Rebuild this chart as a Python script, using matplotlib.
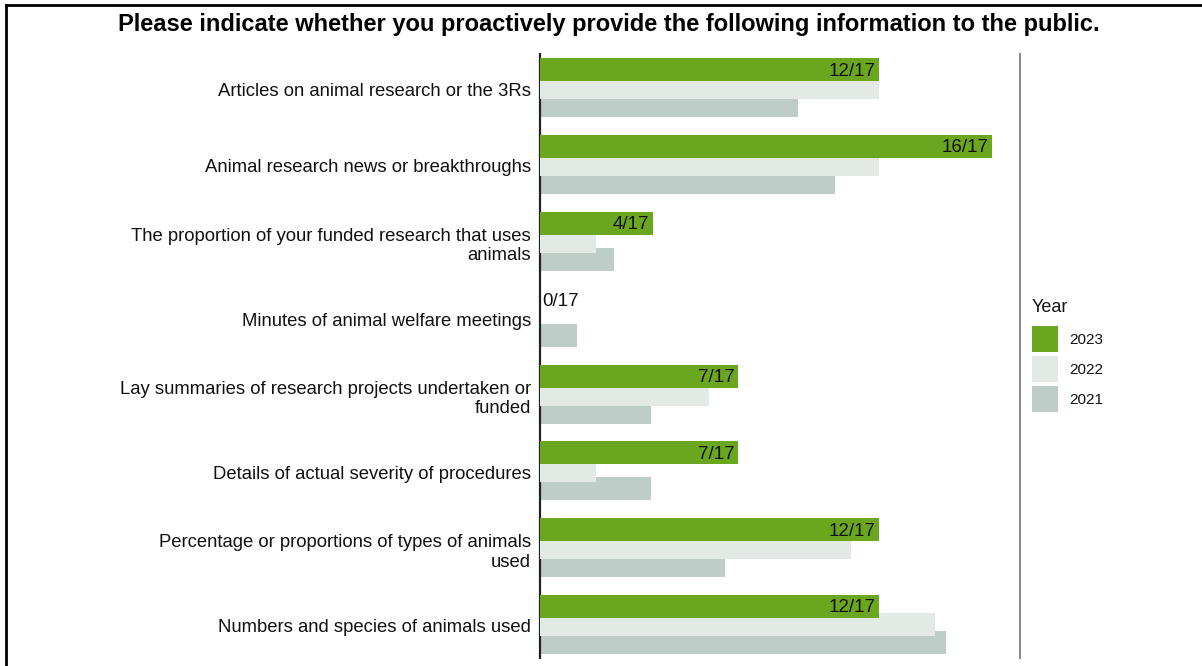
import matplotlib.pyplot as plt
from matplotlib.patches import Rectangle
import numpy as np

plt.rcParams['font.family'] = ['Liberation Sans', 'DejaVu Sans']

# Survey answers: number of organisations answering "yes" per year
categories = [
    "Articles on animal research or the 3Rs",
    "Animal research news or breakthroughs",
    "The proportion of your funded research that uses\nanimals",
    "Minutes of animal welfare meetings",
    "Lay summaries of research projects undertaken or\nfunded",
    "Details of actual severity of procedures",
    "Percentage or proportions of types of animals\nused",
    "Numbers and species of animals used",
]
years = ["2023", "2022", "2021"]
yes_2023 = [12, 16, 4, 0, 7, 7, 12, 12]
yes_2022 = [12, 12, 2, 0, 6, 2, 11, 14]
yes_2021 = [7, 8, 2, 1, 3, 3, 5, 11]
respondents = {"2023": 17, "2022": 17, "2021": 13}

colors = {"2023": "#6aa71e", "2022": "#e3e9e5", "2021": "#bfcdc8"}
counts = {"2023": yes_2023, "2022": yes_2022, "2021": yes_2021}

W, H = 1202, 666
fig = plt.figure(figsize=(W / 100, H / 100), dpi=100)
ax = fig.add_axes([540 / W, 1 - 658 / H, 480 / W, (658 - 54) / H])

y = np.arange(len(categories))
offset = 0.235
height = 0.30

# draw oldest first so newer years sit on top
for i, yr in enumerate(["2021", "2022", "2023"]):
    share = np.array(counts[yr]) / respondents[yr]
    shift = (i - 1) * offset
    ax.barh(y - shift, share, height=height, color=colors[yr], zorder=2 + i)

# labels for the latest year
share_23 = np.array(yes_2023) / respondents["2023"]
for yi, v, s in zip(y, yes_2023, share_23):
    txt = f"{v}/{respondents['2023']}"
    if v == 0:
        ax.text(0.005, yi - offset + 0.02, txt, ha="left", va="center",
                fontsize=13.5, color="#111111", zorder=6)
    else:
        ax.text(s - 0.007, yi - offset + 0.02, txt, ha="right", va="center",
                fontsize=13.5, color="#111111", zorder=6)

ax.set_xlim(0, 1)
ax.set_ylim(len(categories) - 0.56, -0.44)
ax.set_yticks(y + 0.02)
ax.set_yticklabels(categories, fontsize=13.3, color="#111111", linespacing=1.2)
ax.tick_params(axis="y", length=0, pad=6.5)
ax.set_xticks([])
for side in ["top", "bottom"]:
    ax.spines[side].set_visible(False)
ax.spines["left"].set_color("#222222")
ax.spines["left"].set_linewidth(1.6)
ax.spines["right"].set_color("#888888")
ax.spines["right"].set_linewidth(1.4)

# legend
fig.text(1032 / W, 1 - 308 / H, "Year", ha="left", va="center",
         fontsize=13, color="#111111")
for k, yr in enumerate(years):
    top = 326 + 30 * k
    fig.add_artist(Rectangle((1032 / W, 1 - (top + 26) / H), 26 / W, 26 / H,
                             transform=fig.transFigure, facecolor=colors[yr],
                             edgecolor="none"))
    fig.text(1069 / W, 1 - (top + 14) / H, yr, ha="left", va="center",
             fontsize=11, color="#111111")

fig.text(609 / W, 1 - 25 / H,
         "Please indicate whether you proactively provide the following information to the public.",
         ha="center", va="center", fontsize=17, fontweight="bold", color="black")

# frame lines on the left and top edge
fig.add_artist(plt.Line2D([6 / W, 6 / W], [0, 1 - 4.5 / H],
                          transform=fig.transFigure, color="black", lw=2))
fig.add_artist(plt.Line2D([6 / W, 1], [1 - 4.5 / H, 1 - 4.5 / H],
                          transform=fig.transFigure, color="black", lw=2))

fig.savefig("out.png", dpi=100)
